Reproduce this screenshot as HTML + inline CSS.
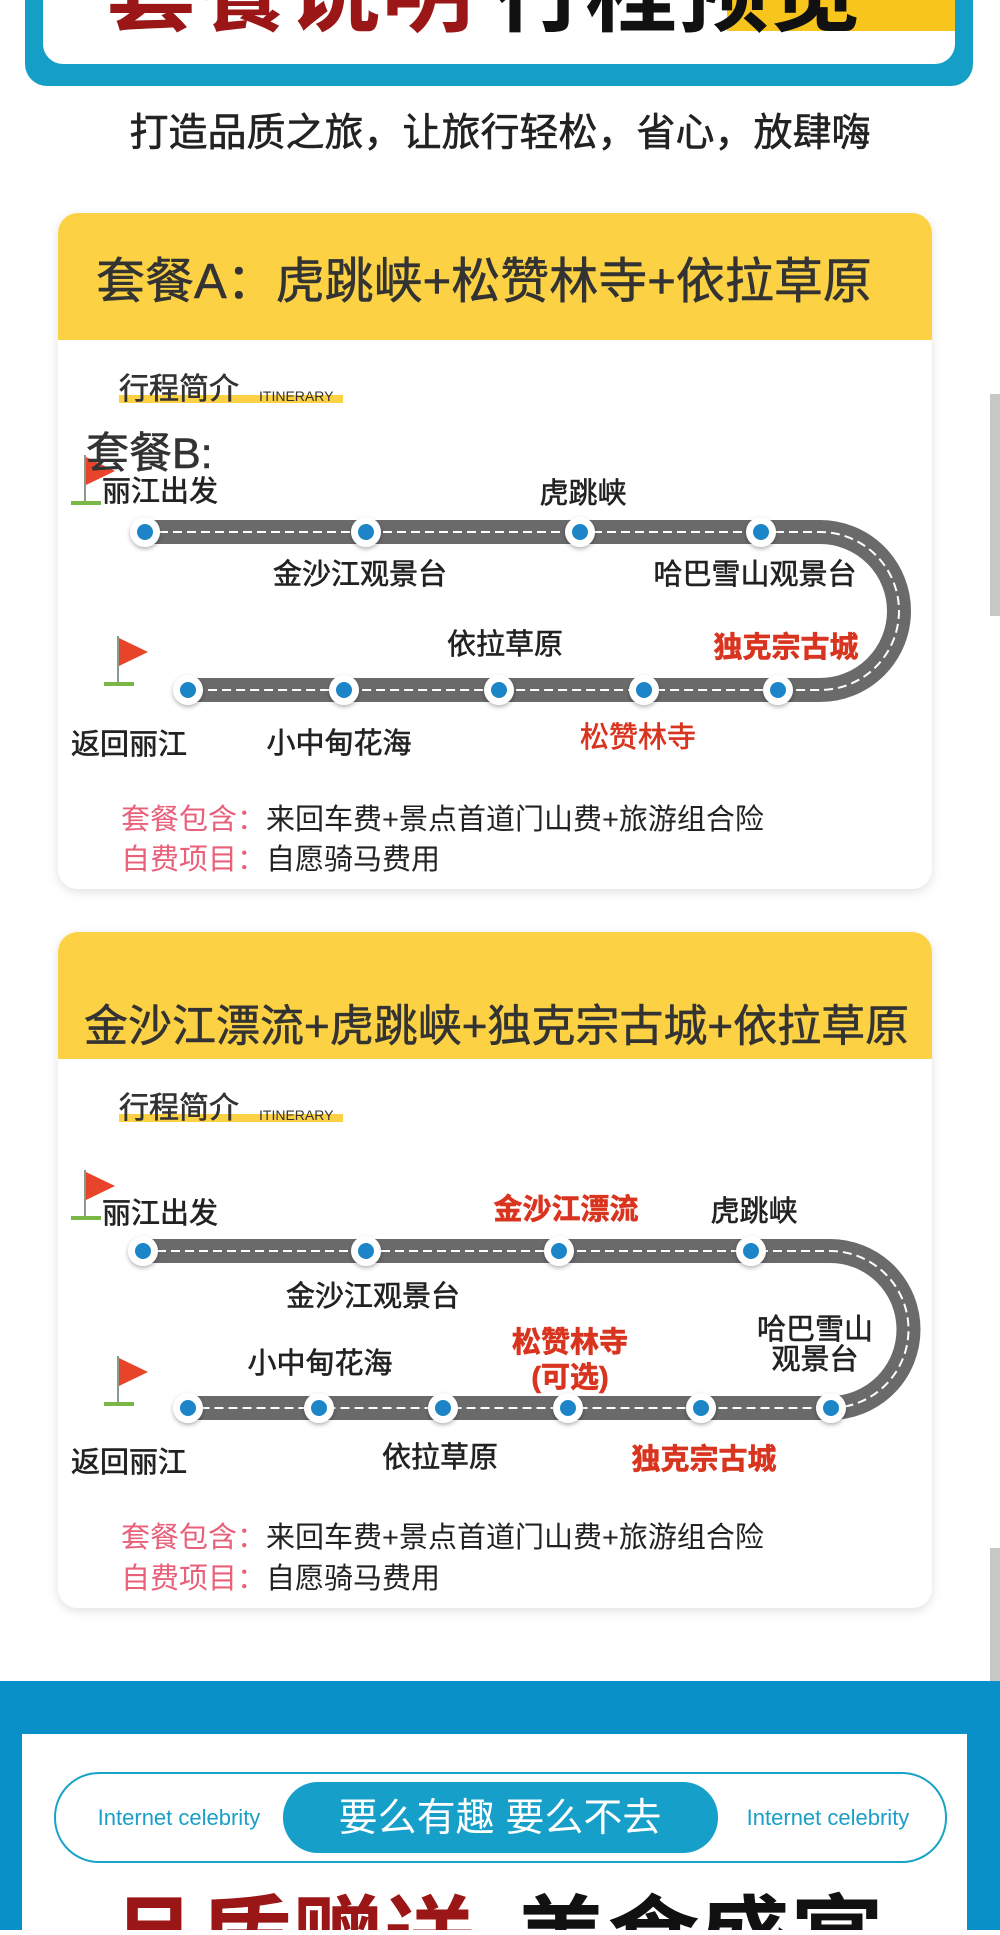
<!DOCTYPE html>
<html><head><meta charset="utf-8"><style>
html,body{margin:0;padding:0;background:#fff;}
body{width:1000px;height:1930px;overflow:hidden;position:relative;font-family:"Liberation Sans","Noto Sans CJK SC",sans-serif;}
svg text{font-family:"Liberation Sans","Noto Sans CJK SC",sans-serif;}
.b{stroke:currentColor;stroke-width:0.6;}
</style></head><body>
<svg width="1000" height="1930" viewBox="0 0 1000 1930" xmlns="http://www.w3.org/2000/svg">
<defs>
<filter id="sh" x="-10%" y="-10%" width="120%" height="120%"><feDropShadow dx="0" dy="3" stdDeviation="5" flood-color="#000" flood-opacity="0.12"/></filter>
<filter id="nsh" x="-50%" y="-50%" width="200%" height="200%"><feDropShadow dx="0" dy="2" stdDeviation="2" flood-color="#000" flood-opacity="0.3"/></filter>
<g id="flag"><line x1="0" y1="0" x2="0" y2="48" stroke="#8a9a8a" stroke-width="2"/><polygon points="1,2 30,16 1,30" fill="#e8442a"/><rect x="-14" y="46" width="30" height="4" fill="#7ab648"/></g>
<g id="node" filter="url(#nsh)"><circle r="15" fill="#fff"/><circle r="8" fill="#1f85c8"/></g>
</defs>

<rect x="25" y="-40" width="948" height="126" rx="22" fill="#159fc6"/>
<rect x="43" y="-40" width="912" height="104" rx="20" fill="#fff"/>
<rect x="727" y="0" width="228" height="31" fill="#f7c51c"/>
<text x="105" y="24" font-size="92" font-weight="bold" fill="#9b1616">套餐说明</text>
<text x="493" y="24" font-size="92" font-weight="bold" fill="#111">行程预览</text>

<text x="500" y="146" font-size="39" fill="#222" color="#222" class="b" text-anchor="middle">打造品质之旅，让旅行轻松，省心，放肆嗨</text>

<!-- Card A -->
<g filter="url(#sh)"><rect x="58" y="213" width="874" height="676" rx="20" fill="#fff"/></g>
<path d="M58 340 V233 a20 20 0 0 1 20 -20 H912 a20 20 0 0 1 20 20 V340 Z" fill="#fcd244"/>
<text x="96" y="298" font-size="49" fill="#333" color="#333" class="b">套餐A：虎跳峡+松赞林寺+依拉草原</text>
<rect x="119" y="395" width="224" height="8" fill="#fcd244"/>
<text x="119" y="399" font-size="30" fill="#333" color="#333" class="b">行程简介</text>
<text x="259" y="401" font-size="14" fill="#333">ITINERARY</text>

<path d="M145 532 H820 A79 79 0 0 1 820 690 H188" fill="none" stroke="#6a6a6a" stroke-width="24"/>
<path d="M145 532 H820 A79 79 0 0 1 820 690 H188" fill="none" stroke="#fff" stroke-width="2" stroke-dasharray="9 5"/>
<use href="#flag" x="85" y="455"/>
<text x="86" y="468" font-size="43" fill="#333" color="#333" class="b">套餐B:</text>
<use href="#flag" x="118" y="636"/>
<use href="#node" x="145" y="532"/><use href="#node" x="366" y="532"/><use href="#node" x="580" y="532"/><use href="#node" x="761" y="532"/>
<use href="#node" x="188" y="690"/><use href="#node" x="344" y="690"/><use href="#node" x="499" y="690"/><use href="#node" x="644" y="690"/><use href="#node" x="778" y="690"/>
<g font-size="29" fill="#222" color="#222" class="b" text-anchor="middle">
<text x="160" y="501">丽江出发</text>
<text x="583" y="503">虎跳峡</text>
<text x="360" y="584">金沙江观景台</text>
<text x="755" y="584">哈巴雪山观景台</text>
<text x="505" y="654">依拉草原</text>
<text x="129" y="754">返回丽江</text>
<text x="339" y="753">小中甸花海</text>
<text x="786" y="657" fill="#d9341f" color="#d9341f" font-weight="bold">独克宗古城</text>
<text x="638" y="747" fill="#d9341f" color="#d9341f">松赞林寺</text>
</g>
<text x="121" y="829" font-size="29" fill="#e8607a">套餐包含：<tspan fill="#222">来回车费+景点首道门山费+旅游组合险</tspan></text>
<text x="121" y="869" font-size="29" fill="#e8607a">自费项目：<tspan fill="#222">自愿骑马费用</tspan></text>

<!-- Card B -->
<g filter="url(#sh)"><rect x="58" y="932" width="874" height="676" rx="20" fill="#fff"/></g>
<path d="M58 1059 V952 a20 20 0 0 1 20 -20 H912 a20 20 0 0 1 20 20 V1059 Z" fill="#fcd244"/>
<text x="84" y="1041" font-size="44" fill="#333" color="#333" class="b">金沙江漂流+虎跳峡+独克宗古城+依拉草原</text>
<rect x="119" y="1114" width="224" height="8" fill="#fcd244"/>
<text x="119" y="1118" font-size="30" fill="#333" color="#333" class="b">行程简介</text>
<text x="259" y="1120" font-size="14" fill="#333">ITINERARY</text>

<path d="M143 1251 H830 A78.5 78.5 0 0 1 830 1408 H188" fill="none" stroke="#6a6a6a" stroke-width="24"/>
<path d="M143 1251 H830 A78.5 78.5 0 0 1 830 1408 H188" fill="none" stroke="#fff" stroke-width="2" stroke-dasharray="9 5"/>
<use href="#flag" x="85" y="1170"/>
<use href="#flag" x="118" y="1356"/>
<use href="#node" x="143" y="1251"/><use href="#node" x="366" y="1251"/><use href="#node" x="559" y="1251"/><use href="#node" x="751" y="1251"/>
<use href="#node" x="188" y="1408"/><use href="#node" x="319" y="1408"/><use href="#node" x="443" y="1408"/><use href="#node" x="568" y="1408"/><use href="#node" x="701" y="1408"/><use href="#node" x="831" y="1408"/>
<g font-size="29" fill="#222" color="#222" class="b" text-anchor="middle">
<text x="160" y="1223">丽江出发</text>
<text x="566" y="1219" fill="#d9341f" color="#d9341f" font-weight="bold">金沙江漂流</text>
<text x="754" y="1221">虎跳峡</text>
<text x="373" y="1306">金沙江观景台</text>
<text x="815" y="1339">哈巴雪山</text>
<text x="815" y="1369">观景台</text>
<text x="320" y="1373">小中甸花海</text>
<text x="570" y="1352" fill="#d9341f" color="#d9341f" font-weight="bold">松赞林寺</text>
<text x="570" y="1387" fill="#d9341f" color="#d9341f" font-weight="bold">(可选)</text>
<text x="440" y="1467">依拉草原</text>
<text x="704" y="1469" fill="#d9341f" color="#d9341f" font-weight="bold">独克宗古城</text>
<text x="129" y="1472">返回丽江</text>
</g>
<text x="121" y="1547" font-size="29" fill="#e8607a">套餐包含：<tspan fill="#222">来回车费+景点首道门山费+旅游组合险</tspan></text>
<text x="121" y="1588" font-size="29" fill="#e8607a">自费项目：<tspan fill="#222">自愿骑马费用</tspan></text>

<rect x="990" y="394" width="10" height="222" fill="#c8c8c8"/>
<rect x="990" y="1548" width="10" height="164" fill="#c8c8c8"/>

<rect x="0" y="1681" width="1000" height="249" fill="#0a90c8"/>
<rect x="22" y="1734" width="945" height="196" fill="#fff"/>
<rect x="55" y="1773" width="891" height="89" rx="44" fill="#fff" stroke="#1aa3c8" stroke-width="2"/>
<rect x="283" y="1782" width="435" height="71" rx="35" fill="#169fc8"/>
<text x="500" y="1831" font-size="39" fill="#fff" text-anchor="middle">要么有趣 要么不去</text>
<text x="179" y="1825" font-size="22" fill="#1a9fc8" text-anchor="middle">Internet celebrity</text>
<text x="828" y="1825" font-size="22" fill="#1a9fc8" text-anchor="middle">Internet celebrity</text>
<text x="108" y="1972" font-size="92" font-weight="bold" fill="#9b1616">品质赠送</text>
<text x="515" y="1972" font-size="92" font-weight="bold" fill="#111">美食盛宴</text>
</svg>
</body></html>
